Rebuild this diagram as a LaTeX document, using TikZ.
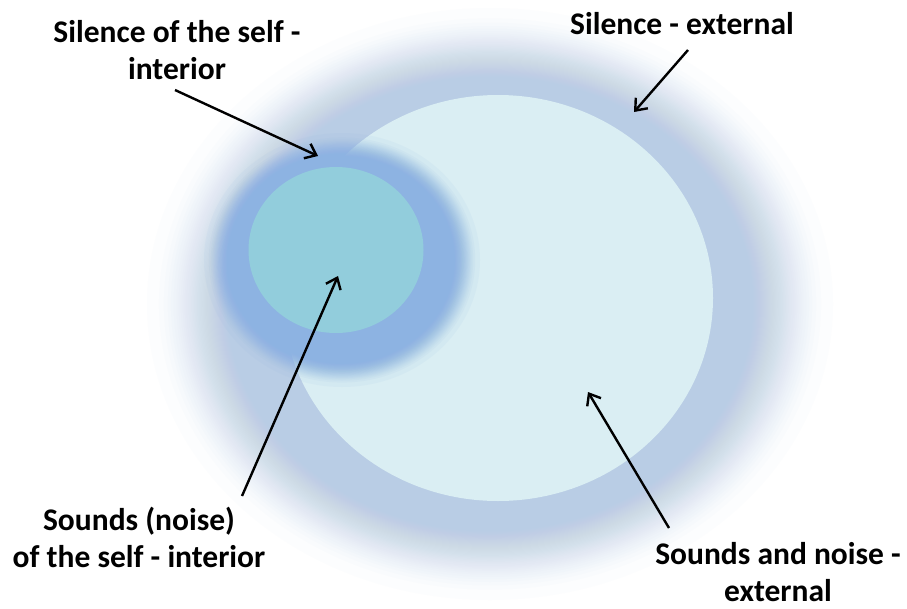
\documentclass[tikz,border=0pt]{standalone}
\usepackage{fontspec}
\setmainfont{Carlito}
\usetikzlibrary{arrows.meta}

\definecolor{bigfill}{HTML}{DAEEF3}
\definecolor{bigglowc}{HTML}{B9CDE5}
\definecolor{smallfill}{HTML}{92CDDC}
\definecolor{smallglowc}{HTML}{8DB3E2}

\tikzset{
  lbl/.style={font=\fontsize{31.5}{37}\selectfont\bfseries, align=center, inner sep=0pt},
  arr/.style={draw=black, line width=2.4pt, -{Straight Barb[length=10pt,width=16pt,line width=2.4pt]}},
  biglayer/.style={fill=bigglowc, fill opacity=0.035},
  smalllayer/.style={fill=smallglowc, fill opacity=0.08},
}

\begin{document}
\begin{tikzpicture}[x=1pt,y=-1pt]
\useasboundingbox (0,0) rectangle (907,608);
\fill[white] (0,0) rectangle (907,608);

% large glow (stacked translucent layers) and ellipse
\foreach \i in {0,...,90}{
  \pgfmathsetmacro{\s}{1-0.33*(\i/90)^0.5}
  \path[biglayer] (490,304) ellipse [x radius=343*\s, y radius=296*\s];
}
\fill[bigglowc] (490,304) ellipse [x radius=229.8, y radius=198.3];
\fill[bigfill] (498,298) ellipse [x radius=215, y radius=203];

% small glow and ellipse
\foreach \i in {0,...,40}{
  \pgfmathsetmacro{\s}{1-0.22*(\i/40)^0.5}
  \path[smalllayer] (342,260) ellipse [x radius=138*\s, y radius=127*\s];
}
\fill[smallglowc] (342,260) ellipse [x radius=107.6, y radius=99.1];
\fill[smallfill] (336,250) ellipse [x radius=87.5, y radius=83];

% labels
\node[lbl] (silself) at (177,50) {Silence of the self -\\interior};
\node[lbl] (silext) at (682,24) {Silence - external};
\node[lbl] (sndself) at (139,537) {Sounds (noise)\\of the self - interior};
\node[lbl] (sndext) at (778,572) {Sounds and noise -\\external};

% arrow end points
\coordinate (t1) at (175,90);
\coordinate (h1) at (318,156);
\coordinate (t2) at (688,50);
\coordinate (h2) at (634,112);
\coordinate (t3) at (242,496);
\coordinate (h3) at (338,276);
\coordinate (t4) at (669,528);
\coordinate (h4) at (588,392);

\draw[arr] (t1) -- (h1);
\draw[arr] (t2) -- (h2);
\draw[arr] (t3) -- (h3);
\draw[arr] (t4) -- (h4);
\end{tikzpicture}
\end{document}
